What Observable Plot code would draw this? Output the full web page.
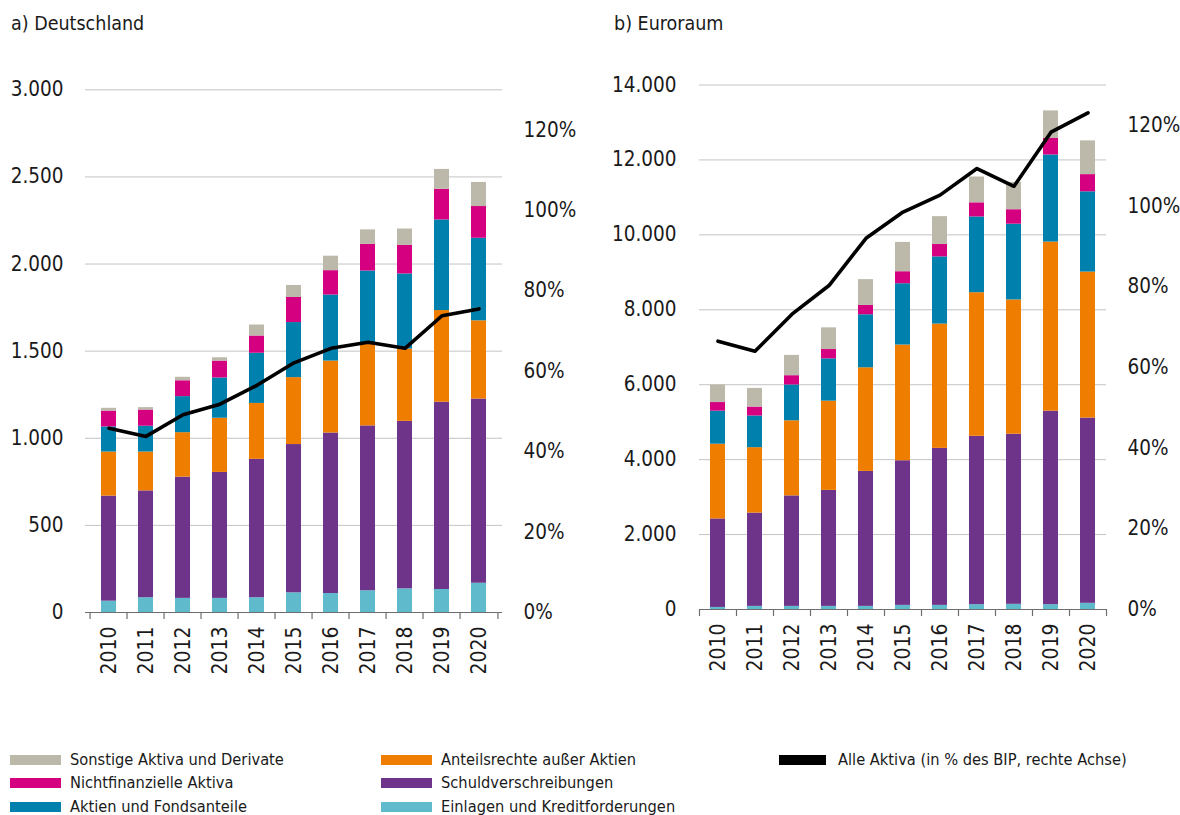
<!DOCTYPE html>
<html>
<head>
<meta charset="utf-8">
<script src="https://cdn.jsdelivr.net/npm/d3@7"></script>
<script src="https://cdn.jsdelivr.net/npm/@observablehq/plot@0.6"></script>
<style>
  html, body { margin: 0; padding: 0; background: #fff; }
  body { width: 1180px; height: 815px; position: relative; overflow: hidden;
         font-family: "DejaVu Sans Condensed", "DejaVu Sans", sans-serif; font-stretch: condensed; color: #1a1a1a; }
  svg text { font-stretch: condensed; }
  .title { position: absolute; font-size: 19.5px; line-height: 22px; white-space: nowrap; }
  .panel { position: absolute; }
  .leg { position: absolute; font-size: 16.3px; line-height: 20px; white-space: nowrap; display: flex; align-items: center; }
  .sw { width: 51px; height: 10px; margin-right: 9px; flex: none; }
</style>
</head>
<body>
<div class="title" style="left:11px; top:13px;">a) Deutschland</div>
<div class="title" style="left:614px; top:13px;">b) Euroraum</div>
<div id="pa" class="panel" style="left:0px; top:60px;"></div>
<div id="pb" class="panel" style="left:600px; top:60px;"></div>
<div id="legend"></div>
<script>
// ---- data ----
const years = ["2010","2011","2012","2013","2014","2015","2016","2017","2018","2019","2020"];
const categories = ["Einlagen und Kreditforderungen","Schuldverschreibungen","Anteilsrechte außer Aktien","Aktien und Fondsanteile","Nichtfinanzielle Aktiva","Sonstige Aktiva und Derivate"];
const colors = ["#5fbbcb","#6e348a","#ee7d00","#0080ad","#d5007f","#bcb9ab"];
const lineLabel = "Alle Aktiva (in % des BIP, rechte Achse)";

// Deutschland (Mrd €)
const deEinlagen  = [65, 85, 81, 81, 85, 113, 109, 125, 136, 132, 168];
const deSchuld    = [603, 613, 696, 723, 794, 851, 921, 946, 961, 1075, 1057];
const deAnteil    = [253, 223, 255, 311, 321, 384, 413, 469, 415, 526, 449];
const deAktien    = [144, 148, 207, 231, 288, 316, 379, 420, 431, 520, 474];
const deNichtfin  = [91, 93, 91, 97, 99, 144, 140, 153, 164, 176, 182];
const deSonstige  = [16, 14, 20, 19, 63, 69, 83, 83, 94, 114, 138];
const deQuote     = [45.8, 43.8, 49.2, 51.8, 56.5, 62.1, 65.7, 67.2, 65.7, 73.8, 75.5];

// Euroraum (Mrd €)
const eaEinlagen  = [55, 83, 83, 83, 83, 110, 110, 129, 138, 129, 165];
const eaSchuld    = [2362, 2490, 2950, 3097, 3603, 3861, 4191, 4494, 4540, 5165, 4945];
const eaAnteil    = [1995, 1747, 2004, 2381, 2766, 3088, 3318, 3833, 3585, 4513, 3897];
const eaAktien    = [882, 845, 956, 1130, 1415, 1636, 1793, 2022, 2022, 2325, 2142];
const eaNichtfin  = [230, 239, 248, 248, 249, 321, 330, 377, 386, 441, 459];
const eaSonstige  = [469, 497, 542, 579, 689, 782, 745, 689, 729, 736, 901];
const eaQuote     = [66.5, 64.0, 73.2, 80.3, 92.0, 98.5, 102.7, 109.3, 104.9, 118.3, 123.1];

const deTicks = [0, 500, 1000, 1500, 2000, 2500, 3000];
const eaTicks = [0, 2000, 4000, 6000, 8000, 10000, 12000, 14000];
const pctTicks = [0, 20, 40, 60, 80, 100, 120];
const pctMax = 130;

// ---- helpers ----
const fmt = d3.formatLocale({decimal: ",", thousands: ".", grouping: [3], currency: ["", " €"]}).format(",d");
const FONT = '"DejaVu Sans Condensed", "DejaVu Sans", sans-serif';

function panel(series, quote, yTicks, o) {
  const rows = [];
  categories.forEach((c, ci) => years.forEach((y, i) => rows.push({year: y, cat: c, value: series[ci][i]})));
  const yMax = yTicks[yTicks.length - 1];
  const k = yMax / pctMax;
  const lineRows = years.map((y, i) => ({year: y, q: quote[i]}));
  const innerW = o.width - o.marginLeft - o.marginRight;
  const innerH = o.height - o.marginTop - o.marginBottom;
  const step = innerW / years.length;
  return Plot.plot({
    width: o.width, height: o.height,
    marginLeft: o.marginLeft, marginRight: o.marginRight, marginTop: o.marginTop, marginBottom: o.marginBottom,
    style: {fontFamily: FONT, fontSize: "20.5px", color: "#1a1a1a", background: "transparent", overflow: "visible"},
    x: {domain: years, paddingInner: 0.6, paddingOuter: 0.3, axis: null},
    y: {domain: [0, yMax], axis: null},
    color: {domain: categories, range: colors},
    marks: [
      Plot.gridY(yTicks.filter(d => d > 0), {stroke: "#c4c4c4", strokeOpacity: 1, strokeWidth: 1}),
      Plot.barY(rows, Plot.stackY({x: "year", y: "value", fill: "cat"})),
      Plot.ruleY([0], {stroke: "#6e6e6e", strokeWidth: 1.2}),
      Plot.ruleX(years, {x: d => d, dx: -step / 2, insetTop: innerH, insetBottom: -7, stroke: "#6e6e6e", strokeWidth: 1.2}),
      Plot.ruleX(years.slice(-1), {x: d => d, dx: step / 2, insetTop: innerH, insetBottom: -7, stroke: "#6e6e6e", strokeWidth: 1.2}),
      Plot.line(lineRows, {x: "year", y: d => d.q * k, stroke: "#000", strokeWidth: 3.6, strokeLinejoin: "round", strokeLinecap: "round"}),
      Plot.axisY(yTicks, {anchor: "left", tickSize: 0, tickPadding: o.leftPad, tickFormat: fmt, label: null}),
      Plot.axisY(pctTicks.map(p => p * k), {anchor: "right", tickSize: 0, tickPadding: 21, tickFormat: d => Math.round(d / k) + "%", label: null}),
      Plot.axisX({anchor: "bottom", tickSize: 0, tickPadding: 14, tickRotate: -90, fontSize: 21, label: null})
    ]
  });
}

document.getElementById("pa").append(panel(
  [deEinlagen, deSchuld, deAnteil, deAktien, deNichtfin, deSonstige], deQuote, deTicks,
  {width: 590, height: 640, marginLeft: 85, marginRight: 88, marginTop: 29.3, marginBottom: 88, leftPad: 22}
));
document.getElementById("pb").append(panel(
  [eaEinlagen, eaSchuld, eaAnteil, eaAktien, eaNichtfin, eaSonstige], eaQuote, eaTicks,
  {width: 580, height: 640, marginLeft: 99, marginRight: 74, marginTop: 24.5, marginBottom: 91, leftPad: 23}
));

// ---- legend ----
const legendItems = [
  {label: categories[5], color: colors[5], x: 10, y: 759.5},
  {label: categories[4], color: colors[4], x: 10, y: 783},
  {label: categories[3], color: colors[3], x: 10, y: 807},
  {label: categories[2], color: colors[2], x: 381, y: 759.5},
  {label: categories[1], color: colors[1], x: 381, y: 783},
  {label: categories[0], color: colors[0], x: 381, y: 807},
  {label: lineLabel, color: "#000", x: 779, y: 759.5, w: 47}
];
const lg = document.getElementById("legend");
legendItems.forEach(it => {
  const d = document.createElement("div");
  d.className = "leg";
  d.style.left = it.x + "px";
  d.style.top = (it.y - 10) + "px";
  const s = document.createElement("span");
  s.className = "sw";
  s.style.background = it.color;
  if (it.w) { s.style.width = it.w + "px"; s.style.marginRight = "12px"; }
  const t = document.createElement("span");
  t.textContent = it.label;
  d.append(s, t);
  lg.append(d);
});
</script>
</body>
</html>
